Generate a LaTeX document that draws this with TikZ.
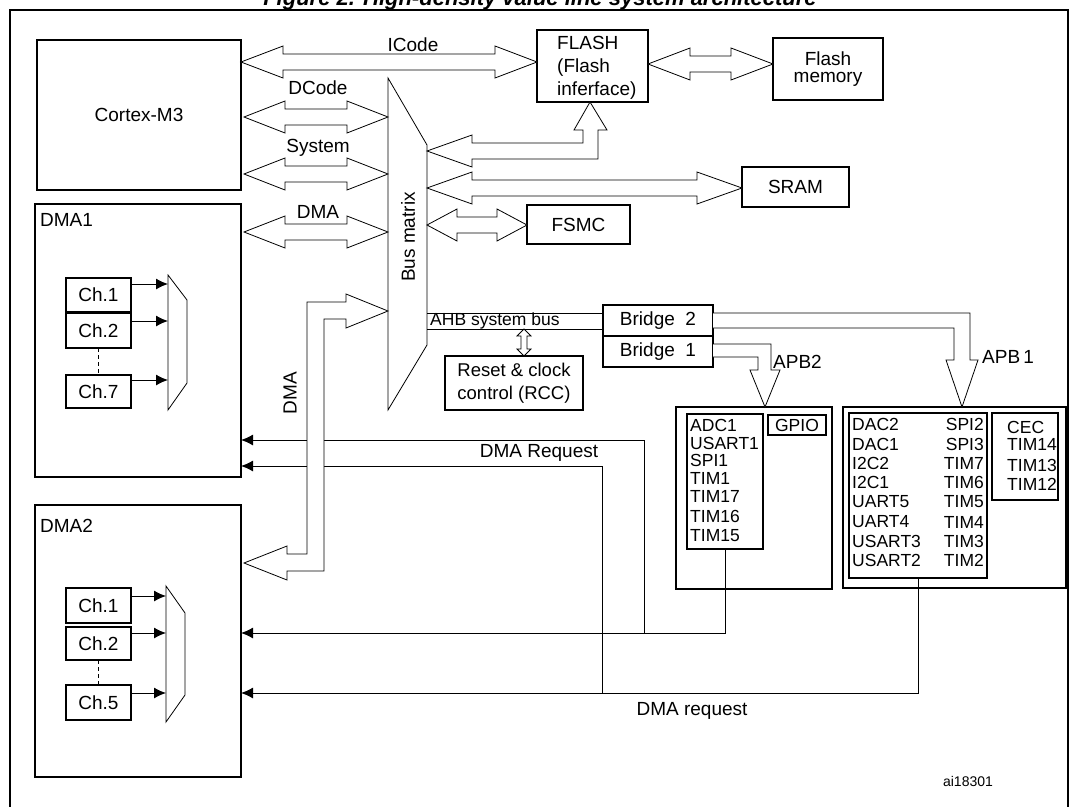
\documentclass[tikz,border=0pt]{standalone}
\usepackage{fontspec}
\setmainfont{Liberation Sans}
\usetikzlibrary{arrows.meta,calc}

\tikzset{
  blk/.style={draw, line width=1.1pt, inner sep=0pt, outer sep=0pt},
  txt/.style={inner sep=0pt, font=\fontsize{19}{21}\selectfont},
  small/.style={inner sep=0pt, font=\fontsize{17.5}{19}\selectfont},
  hollow/.style={draw, line width=0.8pt, fill=white, line join=miter},
  req/.style={line width=1pt, -{Latex[length=12pt,width=11pt]}},
}
% hollow double arrow: x1, x2, y, head length
\newcommand\hdarrow[4]{%
  \draw[hollow] (#1,#3) -- ({#1+#4},{#3-16}) -- ({#1+#4},{#3-8}) -- ({#2-#4},{#3-8})
    -- ({#2-#4},{#3-16}) -- (#2,#3) -- ({#2-#4},{#3+16}) -- ({#2-#4},{#3+8})
    -- ({#1+#4},{#3+8}) -- ({#1+#4},{#3+16}) -- cycle;}

\begin{document}
\begin{tikzpicture}[x=1pt,y=-1pt]
\useasboundingbox (0,0) rectangle (1079,806);

% title and frame
\node[anchor=base, font=\fontsize{22}{24}\selectfont\bfseries\itshape] at (540,5)
  {Figure 2. High-density value line system architecture};
\draw[line width=1.3pt] (10,830) -- (10,10) -- (1068,10) -- (1068,830);

% main blocks
\node[blk, minimum width=204, minimum height=150, txt] (cortex) at (139,115) {Cortex-M3};
\node[blk, minimum width=206, minimum height=273] (dma1) at (138,340.5) {};
\node[blk, minimum width=206, minimum height=272] (dma2) at (138,641) {};
\node[txt, anchor=north west] at ([shift={(5,9)}]dma1.north west) {DMA1};
\node[txt, anchor=north west] at ([shift={(5,14)}]dma2.north west) {DMA2};
\node[blk, minimum width=111, minimum height=72] (flash) at (592.5,66) {};
\node[txt, anchor=north west, align=left, font=\fontsize{19}{23}\selectfont] at (557,36)
  {FLASH\\(Flash\\inferface)};
\node[blk, minimum width=110, minimum height=62, txt, align=center,
  font=\fontsize{19}{17}\selectfont] (fmem) at (828,69) {Flash\\memory};
\node[blk, minimum width=107, minimum height=40, txt] (sram) at (795.5,187) {SRAM};
\node[blk, minimum width=103, minimum height=39, txt] (fsmc) at (578.5,224.5) {FSMC};
\node[blk, minimum width=110, minimum height=31, txt] (br2) at (658,320.5) {Bridge\ \ 2};
\node[blk, minimum width=110, minimum height=31, txt] (br1) at (658,351.5) {Bridge\ \ 1};
\node[blk, minimum width=138, minimum height=54, txt, align=left,
  font=\fontsize{18.5}{23}\selectfont] (rcc) at (514,383) {Reset \& clock\\control (RCC)};

% bus matrix
\draw[line width=0.8pt] (388,78) -- (427,145) -- (427,345) -- (388,410) -- cycle;
\node[txt, rotate=90] (busm) at (408,237) {Bus matrix};

% channels
\foreach \nm/\lab/\y/\h in {c11/Ch.1/295/34, c12/Ch.2/330.5/35, c17/Ch.7/391.5/33,
    c21/Ch.1/605.5/35, c22/Ch.2/643.5/33, c25/Ch.5/702.5/35}
  \node[blk, minimum width=65, minimum height=\h, txt] (\nm) at (98.5,\y) {\lab};
\draw[line width=0.8pt] (168,275) -- (187,300) -- (187,383) -- (168,410) -- cycle;
\draw[line width=0.8pt] (166,586) -- (185,613) -- (185,695) -- (166,722) -- cycle;
\foreach \a/\y/\t in {c11/284/168, c12/321/168, c17/380/168, c21/596/166, c22/633/166, c25/693/166}
  \draw[req] (\a.east |- 0,\y) -- (\t,\y);
\draw[line width=1.2pt, dash pattern=on 4pt off 3pt] (c12.south) -- (c17.north);
\draw[line width=1.2pt, dash pattern=on 4pt off 3pt] (c22.south) -- (c25.north);

% peripherals
\node[blk, minimum width=156, minimum height=182] (apb2p) at (754,498) {};
\node[blk, minimum width=76, minimum height=135] (apb2l) at (725,481.5) {};
\node[blk, minimum width=58, minimum height=20, small] (gpio) at (797,425) {GPIO};
\node[blk, minimum width=223, minimum height=181] (apb1p) at (954.5,497.5) {};
\node[blk, minimum width=138, minimum height=165] (apb1l) at (918,495.5) {};
\node[blk, minimum width=66, minimum height=87] (cec) at (1025,456.5) {};
\foreach \t/\y in {ADC1/425, USART1/443, SPI1/460, TIM1/478, TIM17/496, TIM16/516, TIM15/536}
  \node[small, anchor=west] at (690,\y) {\t};
\foreach \l/\r/\y in {DAC2/SPI2/424, DAC1/SPI3/444, I2C2/TIM7/463, I2C1/TIM6/482,
    UART5/TIM5/502, UART4/TIM4/522, USART3/TIM3/541, USART2/TIM2/560} {
  \node[small, anchor=west] at (852,\y) {\l};
  \node[small, anchor=east] at (984,\y) {\r};
}
\foreach \t/\y in {CEC/427, TIM14/444, TIM13/465, TIM12/484}
  \node[small, anchor=west] at (1007,\y) {\t};

% DMA request lines
\draw[line width=1pt] (644,440) -- (644,633);
\draw[line width=1pt] (602,466) -- (602,693);
\draw[req] (644,440) -- (dma1.east |- 0,440);
\draw[req] (602,466) -- (dma1.east |- 0,466);
\draw[req] (apb2l.south) |- (dma2.east |- 0,633);
\draw[req] (apb1l.south) |- (dma2.east |- 0,693);
\node[txt] at (539,453) {DMA Request};
\node[txt] at (692,711) {DMA request};

% buses
\hdarrow{241}{537}{62}{42}
\hdarrow{244}{388}{117}{41}
\hdarrow{244}{388}{174}{41}
\hdarrow{244}{388}{232}{41}
\hdarrow{648}{773}{64}{42}
\hdarrow{427}{742}{188}{45}
\hdarrow{427}{527}{225}{30}
\node[txt] at (413,45) {ICode};
\node[txt] at (318,88) {DCode};
\node[txt] at (318,148) {System};
\node[txt] at (318,212) {DMA};
\draw[hollow] (427,151) -- (472,135) -- (472,143) -- (583,143) -- (583,130) -- (574,130)
  -- (flash.south -| 590,0) -- (607,130) -- (598,130) -- (598,159) -- (472,159) -- (472,167) -- cycle;
\draw[hollow] (388,311) -- (346,294) -- (346,302) -- (307,302) -- (307,554) -- (287,554)
  -- (287,546) -- (244,563) -- (287,580) -- (287,571) -- (324,571) -- (324,319)
  -- (346,319) -- (346,328) -- cycle;
\node[txt, rotate=90] at (290,393) {DMA};

% AHB and APB
\draw[line width=1pt] (427,313) -- (br2.west |- 0,313);
\draw[line width=1pt] (427,329) -- (br2.west |- 0,329);
\node[small, anchor=west] at (430,321) {AHB system bus};
\draw[hollow] (524,329) -- (531,336) -- (527,336) -- (527,349) -- (531,349) -- (rcc.north -| 524,0)
  -- (517,349) -- (521,349) -- (521,336) -- (517,336) -- cycle;
\draw[line width=0.8pt, fill=white] (br1.east |- 0,344) -- (771,344) -- (771,370) -- (780,370)
  -- (apb2p.north -| 765,0) -- (750,370) -- (758,370) -- (758,357) -- (br1.east |- 0,357);
\draw[line width=0.8pt, fill=white] (br2.east |- 0,313) -- (970,313) -- (970,360) -- (978,360)
  -- (apb1p.north -| 962,0) -- (946,360) -- (954,360) -- (954,328) -- (br2.east |- 0,328);
\node[txt, anchor=west] at (773,362) {APB2};
\node[txt, anchor=west] at (982,357) {APB\,1};

\node[inner sep=0pt, font=\fontsize{14}{16}\selectfont] at (968,781) {ai18301};
\end{tikzpicture}
\end{document}
